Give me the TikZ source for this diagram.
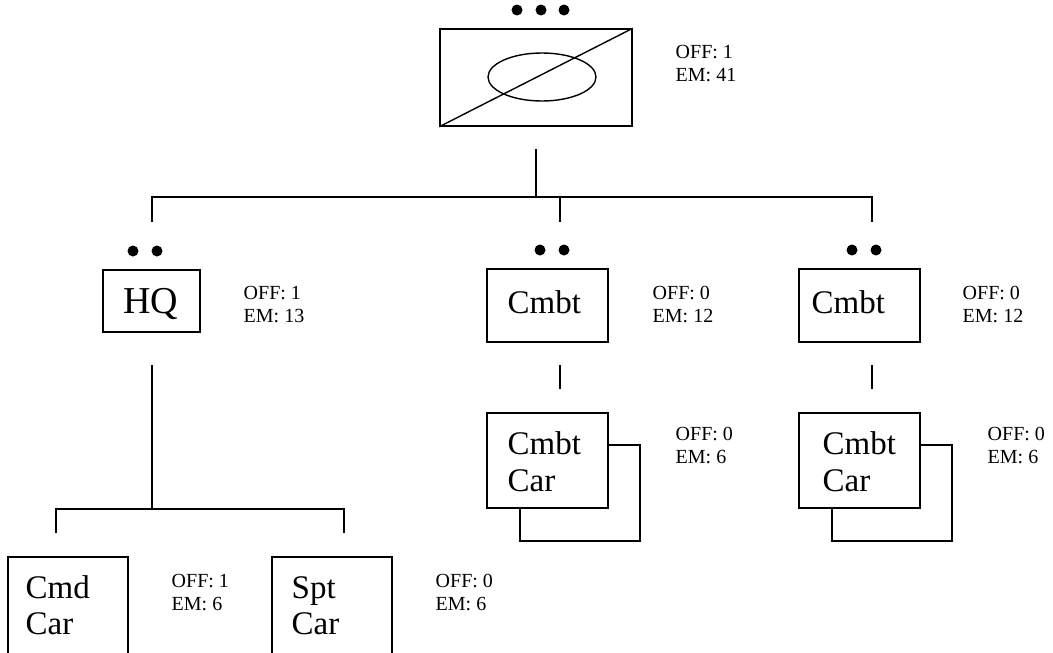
\documentclass[tikz,border=0pt]{standalone}
\usepackage{fontspec}
\setmainfont{Liberation Serif}
\usetikzlibrary{shapes.geometric}
\begin{document}
\begin{tikzpicture}[x=1pt,y=-1pt,line width=1.4pt,
  box/.style={draw,rectangle,fill=white,inner sep=0pt,line width=1.4pt},
  big/.style={font=\fontsize{33}{38}\selectfont,anchor=base west,inner sep=0pt},
  lbl/.style={font=\fontsize{20}{23}\selectfont,anchor=base west,inner sep=0pt,align=left},
  dotn/.style={circle,fill=black,inner sep=0pt,minimum size=11pt},
  conn/.style={draw,line width=1.4pt}]
\useasboundingbox (0,0) rectangle (1053,653);
\clip (0,0) rectangle (1053,653);
% top unit
\node[box,minimum width=192pt,minimum height=97pt] (top) at (536,77.5) {};
\draw (top.south west) -- (top.north east);
\node[draw,ellipse,inner sep=0pt,minimum width=108pt,minimum height=48pt] (oval) at (542,77) {};
\node[dotn] (td1) at (517,10) {};
\node[dotn] (td2) at (541,10) {};
\node[dotn] (td3) at (564,10) {};
\node[lbl] (ltop) at (675,81) {OFF: 1\\EM: 41};
% second level boxes
\node[box,minimum width=97pt,minimum height=62pt] (hq) at (151.5,301) {};
\node[big,anchor=base,font=\fontsize{38}{42}\selectfont] (hqt) at (151,313) {HQ};
\node[dotn] (hd1) at (133,251) {};
\node[dotn] (hd2) at (157,251) {};
\node[lbl] (lhq) at (243,322) {OFF: 1\\EM: 13};
\node[box,minimum width=121pt,minimum height=73pt] (c1) at (547.5,305.5) {};
\node[big] (c1t) at (507,313) {Cmbt};
\node[dotn] (c1d1) at (540,250) {};
\node[dotn] (c1d2) at (564,250) {};
\node[lbl] (lc1) at (652,322) {OFF: 0\\EM: 12};
\node[box,minimum width=121pt,minimum height=73pt] (c2) at (859.5,305.5) {};
\node[big] (c2t) at (811,313) {Cmbt};
\node[dotn] (c2d1) at (852,250) {};
\node[dotn] (c2d2) at (876,250) {};
\node[lbl] (lc2) at (962,322) {OFF: 0\\EM: 12};
% combat cars
\node[box,minimum width=120pt,minimum height=96pt] (cc1b) at (580,493) {};
\node[box,minimum width=121pt,minimum height=95pt] (cc1) at (547.5,460.5) {};
\node[big] (cc1t1) at (507,454) {Cmbt};
\node[big] (cc1t2) at (507,491) {Car};
\node[lbl] (lcc1) at (675,463) {OFF: 0\\EM: 6};
\node[box,minimum width=120pt,minimum height=96pt] (cc2b) at (892,493) {};
\node[box,minimum width=121pt,minimum height=95pt] (cc2) at (859.5,460.5) {};
\node[big] (cc2t1) at (822,454) {Cmbt};
\node[big] (cc2t2) at (822,491) {Car};
\node[lbl] (lcc2) at (987,463) {OFF: 0\\EM: 6};
% bottom cars
\node[box,minimum width=120pt,minimum height=110pt] (cmd) at (68,612) {};
\node[big] (cmdt1) at (25,598) {Cmd};
\node[big] (cmdt2) at (25,634) {Car};
\node[lbl] (lcmd) at (171,610) {OFF: 1\\EM: 6};
\node[box,minimum width=120pt,minimum height=110pt] (spt) at (332,612) {};
\node[big] (sptt1) at (291,598) {Spt};
\node[big] (sptt2) at (291,634) {Car};
\node[lbl] (lspt) at (435,610) {OFF: 0\\EM: 6};
% connectors
\coordinate (t0) at (536,149);
\coordinate (j0) at (536,197);
\coordinate (jl) at (152,197);
\coordinate (jm) at (560,197);
\coordinate (jr) at (872,197);
\coordinate (el) at (152,222);
\coordinate (em) at (560,222);
\coordinate (er) at (872,222);
\path[conn] (t0) -- (j0);
\path[conn] (el) -- (jl) -- (jr) -- (er);
\path[conn] (jm) -- (em);
\coordinate (h0) at (152,365);
\coordinate (h1) at (152,509);
\coordinate (hl) at (56,509);
\coordinate (hr) at (344,509);
\coordinate (hle) at (56,533);
\coordinate (hre) at (344,533);
\path[conn] (h0) -- (h1);
\path[conn] (hle) -- (hl) -- (hr) -- (hre);
\coordinate (m0) at (560,365);
\coordinate (m1) at (560,389);
\coordinate (r0) at (872,365);
\coordinate (r1) at (872,389);
\path[conn] (m0) -- (m1);
\path[conn] (r0) -- (r1);
\end{tikzpicture}
\end{document}
